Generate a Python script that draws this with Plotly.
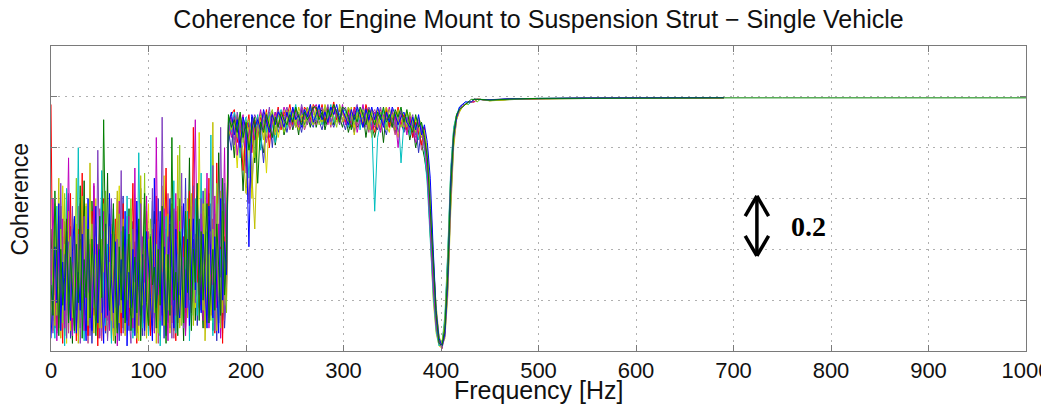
import plotly.graph_objects as go

# ---------------- data ----------------
TITLE = "Coherence for Engine Mount to Suspension Strut \u2212 Single Vehicle"
X_TITLE = "Frequency [Hz]"
Y_TITLE = "Coherence"
X_TICKS = [0, 100, 200, 300, 400, 500, 600, 700, 800, 900, 1000]
Y_TICKS = [0, 0.2, 0.4, 0.6, 0.8, 1.0, 1.2]

# frequency grids [Hz]
FREQ_LOW = list(range(0, 181, 2))        # 0..180 Hz
FREQ_MID = list(range(182, 441, 3))      # 182..440 Hz
FREQ_TAIL = [450, 470, 500, 550, 600, 650, 690]
FREQ_EXTRA = [750, 800, 850, 900, 950, 1000]

# coherence values in percent
low_a = [97, 12, 35, 8, 44, 20, 3, 51, 27, 15, 62, 9, 30, 4, 48, 22, 70, 11, 38, 6,
         25, 55, 14, 33, 2, 46, 19, 60, 8, 29, 41, 5, 23, 52, 13, 36, 7, 58, 21, 44,
         10, 32, 66, 17, 3, 49, 26, 12, 40, 55, 18, 6, 37, 24, 61, 9, 43, 15, 30, 72,
         20, 47, 11, 34, 4, 57, 28, 16, 45, 8, 39, 63, 22, 88, 31, 27, 45, 18, 50, 9,
         36, 68, 14, 52, 7, 74, 25, 41, 3, 58, 20]
low_b = [40, 18, 5, 57, 26, 11, 39, 2, 64, 15, 33, 48, 7, 21, 80, 13, 29, 4, 45, 19,
         9, 36, 52, 14, 27, 6, 71, 23, 10, 42, 30, 3, 56, 17, 38, 12, 47, 25, 8, 61,
         20, 43, 5, 34, 15, 78, 28, 9, 50, 22, 6, 37, 59, 13, 26, 44, 2, 31, 18, 53,
         11, 40, 24, 67, 7, 35, 19, 48, 14, 29, 55, 4, 38, 21, 60, 14, 33, 70, 26, 12,
         47, 19, 85, 6, 31, 58, 11, 40, 24, 66, 35]
low_c = [22, 47, 10, 31, 68, 5, 27, 42, 14, 55, 8, 35, 19, 50, 3, 29, 61, 16, 40, 12,
         74, 24, 7, 45, 18, 33, 9, 58, 26, 15, 49, 20, 4, 37, 63, 11, 28, 52, 6, 34,
         17, 56, 25, 8, 41, 14, 69, 30, 21, 5, 44, 27, 12, 50, 3, 36, 22, 65, 10, 31,
         54, 7, 26, 42, 16, 77, 9, 33, 20, 46, 13, 38, 62, 10, 27, 48, 19, 35, 58, 4,
         29, 53, 16, 90, 22, 8, 44, 63, 15, 37, 48]
low_d = [15, 60, 28, 4, 39, 17, 52, 9, 33, 76, 21, 6, 45, 26, 12, 58, 31, 8, 49, 23,
         36, 11, 66, 19, 42, 5, 30, 55, 13, 27, 8, 46, 21, 35, 2, 59, 16, 40, 29, 12,
         53, 24, 9, 72, 18, 37, 6, 45, 27, 61, 13, 32, 48, 7, 84, 22, 39, 14, 56, 25,
         4, 43, 18, 30, 62, 11, 51, 24, 37, 6, 27, 49, 15, 58, 91, 40, 22, 54, 12, 33,
         70, 9, 42, 26, 61, 17, 50, 5, 36, 80, 25]
low_e = [30, 7, 49, 21, 13, 66, 24, 38, 5, 43, 18, 57, 10, 34, 46, 3, 27, 53, 16, 39,
         6, 28, 41, 12, 79, 25, 15, 47, 33, 4, 22, 60, 9, 31, 44, 18, 71, 7, 37, 26,
         14, 3, 48, 20, 35, 10, 58, 23, 6, 42, 29, 16, 64, 8, 27, 51, 12, 92, 34, 19,
         45, 25, 5, 56, 14, 38, 22, 70, 9, 32, 17, 41, 28, 65, 19, 44, 25, 60, 38, 21,
         14, 46, 30, 73, 8, 55, 19, 88, 32, 12, 42]
low_f = [9, 34, 56, 14, 25, 48, 11, 62, 20, 37, 45, 13, 26, 68, 8, 40, 19, 32, 57, 10,
         28, 50, 17, 38, 22, 9, 44, 31, 63, 18, 35, 12, 47, 6, 26, 54, 15, 33, 48, 20,
         39, 60, 13, 27, 5, 46, 35, 18, 70, 11, 24, 52, 36, 15, 42, 7, 30, 49, 21, 38,
         16, 33, 58, 12, 44, 27, 81, 10, 25, 52, 36, 20, 47, 14, 35, 57, 29, 42, 16, 64,
         25, 38, 12, 48, 27, 66, 21, 9, 55, 30, 15]
low_g = [5, 27, 41, 19, 58, 8, 35, 16, 47, 24, 12, 39, 53, 7, 31, 16, 46, 23, 4, 60,
         19, 8, 34, 57, 11, 40, 26, 3, 50, 14, 62, 28, 15, 43, 9, 24, 36, 13, 55, 2,
         31, 17, 40, 6, 59, 25, 14, 38, 8, 47, 35, 21, 4, 68, 17, 29, 55, 10, 41, 6,
         27, 60, 36, 9, 48, 20, 13, 39, 58, 17, 44, 10, 30, 52, 24, 61, 37, 15, 46, 28,
         9, 57, 34, 13, 45, 28, 7, 60, 20, 43, 30]
low_h = [26, 14, 63, 33, 6, 40, 18, 29, 52, 11, 37, 24, 8, 42, 19, 65, 5, 36, 21, 48,
         13, 44, 29, 6, 35, 53, 21, 91, 39, 27, 16, 34, 58, 24, 7, 41, 20, 49, 11, 30,
         46, 8, 23, 37, 15, 52, 4, 29, 62, 19, 10, 45, 26, 33, 9, 40, 18, 57, 24, 3,
         38, 14, 84, 20, 31, 6, 47, 35, 11, 55, 23, 52, 8, 40, 27, 66, 12, 47, 20, 36,
         58, 11, 27, 40, 16, 50, 33, 14, 68, 22, 39]
low_i = [48, 21, 9, 36, 15, 57, 30, 6, 41, 19, 27, 3, 52, 34, 11, 44, 24, 67, 8, 31,
         17, 59, 38, 22, 5, 47, 13, 35, 28, 70, 10, 40, 26, 3, 51, 18, 33, 9, 45, 23,
         56, 14, 30, 43, 7, 25, 64, 11, 36, 19, 41, 8, 27, 55, 15, 33, 6, 48, 20, 37,
         12, 50, 29, 8, 42, 17, 60, 26, 4, 39, 30, 76, 18, 44, 12, 36, 52, 23, 9, 41,
         19, 62, 34, 8, 49, 21, 78, 38, 12, 27, 44]
low_j = [18, 44, 26, 7, 53, 32, 12, 40, 23, 62, 5, 29, 47, 16, 35, 9, 55, 27, 14, 43,
         31, 3, 24, 49, 15, 38, 63, 20, 7, 36, 54, 13, 29, 46, 21, 4, 39, 61, 17, 28,
         8, 35, 51, 22, 40, 14, 30, 6, 57, 33, 21, 46, 10, 38, 25, 60, 16, 34, 5, 48,
         33, 9, 41, 24, 55, 31, 14, 44, 26, 68, 15, 34, 57, 26, 46, 10, 30, 16, 63, 24,
         40, 13, 58, 25, 36, 4, 47, 29, 54, 9, 26]
low_k = [33, 8, 58, 24, 40, 12, 65, 28, 3, 46, 23, 54, 15, 37, 6, 26, 42, 10, 58, 29,
         44, 16, 31, 60, 9, 22, 37, 48, 19, 5, 27, 50, 8, 19, 38, 65, 11, 24, 35, 47,
         24, 48, 16, 60, 29, 4, 43, 22, 13, 35, 58, 9, 22, 43, 31, 14, 47, 26, 69, 12,
         25, 37, 15, 49, 8, 23, 36, 55, 17, 43, 60, 27, 41, 34, 17, 23, 86, 31, 28, 53,
         33, 24, 47, 11, 37, 62, 14, 51, 26, 18, 52]
low_l = [12, 39, 22, 50, 9, 31, 45, 18, 59, 7, 49, 16, 38, 24, 57, 11, 33, 45, 26, 3,
         42, 20, 65, 30, 13, 56, 4, 25, 44, 12, 36, 19, 43, 28, 60, 31, 6, 42, 18, 53,
         27, 41, 7, 32, 48, 19, 55, 35, 24, 9, 47, 28, 39, 18, 52, 3, 36, 21, 46, 29,
         62, 20, 33, 5, 38, 47, 10, 57, 31, 15, 48, 22, 36, 19, 45, 31, 17, 39, 55, 28,
         11, 44, 23, 35, 54, 28, 40, 19, 7, 45, 31]

mid_a = [88, 93, 95, 82, 90, 71, 86, 93, 78, 91, 84, 92, 88, 95, 80, 93, 90, 96, 87, 94,
         92, 97, 89, 95, 93, 90, 96, 94, 91, 97, 95, 92, 97, 90, 96, 93, 98, 91, 95, 94,
         90, 95, 88, 96, 92, 94, 89, 97, 93, 91, 86, 93, 95, 90, 96, 88, 94, 91, 96, 89,
         93, 87, 92, 84, 90, 86, 81, 88, 72, 55, 30, 12, 4, 1, 8, 28, 62, 84, 92, 95,
         96, 97, 98, 98, 98, 99, 99]
mid_b = [91, 86, 94, 89, 76, 88, 92, 68, 90, 84, 93, 79, 91, 86, 94, 89, 82, 92, 95, 90,
         88, 94, 91, 97, 89, 93, 95, 90, 96, 92, 91, 96, 89, 94, 92, 97, 90, 95, 93, 96,
         94, 88, 93, 90, 95, 87, 96, 91, 94, 89, 55, 84, 90, 95, 88, 93, 90, 89, 94, 74,
         90, 93, 85, 91, 88, 83, 90, 79, 65, 42, 22, 8, 2, 3, 14, 40, 72, 88, 93, 96,
         97, 98, 97, 98, 99, 98, 99]
mid_c = [84, 90, 87, 93, 85, 79, 62, 88, 70, 48, 86, 91, 83, 94, 88, 92, 85, 90, 93, 88,
         95, 90, 93, 88, 96, 92, 94, 89, 97, 93, 92, 95, 90, 97, 93, 89, 95, 92, 96, 90,
         93, 90, 96, 85, 92, 95, 90, 94, 88, 95, 90, 95, 88, 92, 96, 90, 93, 87, 95, 91,
         88, 94, 90, 86, 92, 89, 84, 87, 78, 60, 35, 18, 6, 2, 5, 22, 55, 80, 91, 94,
         96, 97, 98, 98, 99, 99, 99]
mid_d = [90, 84, 92, 77, 88, 93, 80, 86, 91, 83, 89, 95, 87, 92, 84, 90, 94, 88, 91, 96,
         93, 89, 95, 92, 88, 96, 91, 94, 90, 95, 97, 93, 91, 95, 89, 94, 96, 92, 90, 97,
         89, 94, 91, 95, 86, 92, 97, 90, 93, 87, 94, 90, 86, 93, 91, 96, 89, 92, 80, 93,
         91, 85, 93, 88, 82, 90, 87, 83, 70, 48, 26, 10, 3, 2, 10, 34, 66, 86, 92, 95,
         96, 97, 98, 98, 98, 99, 99]
mid_e = [86, 92, 81, 94, 87, 90, 84, 58, 89, 93, 90, 85, 93, 89, 96, 84, 91, 95, 88, 92,
         96, 91, 88, 94, 90, 97, 92, 89, 95, 91, 90, 94, 96, 92, 97, 90, 93, 95, 89, 94,
         96, 91, 89, 94, 97, 90, 92, 88, 96, 93, 88, 92, 96, 89, 93, 91, 95, 88, 90, 95,
         89, 92, 87, 93, 85, 91, 88, 80, 75, 50, 28, 11, 4, 1, 6, 25, 60, 83, 92, 95,
         97, 97, 98, 98, 99, 99, 99]
mid_f = [92, 87, 90, 84, 93, 82, 89, 91, 85, 76, 88, 93, 90, 84, 92, 95, 87, 93, 90, 86,
         91, 95, 93, 89, 94, 91, 88, 96, 93, 89, 94, 89, 93, 96, 91, 95, 92, 88, 97, 93,
         91, 96, 92, 89, 94, 91, 95, 93, 87, 94, 93, 89, 94, 91, 87, 95, 92, 94, 91, 88,
         92, 88, 94, 90, 86, 92, 89, 85, 80, 62, 38, 15, 5, 3, 12, 36, 70, 86, 93, 95,
         96, 97, 98, 98, 99, 98, 99]
mid_g = [89, 94, 85, 91, 80, 92, 87, 41, 93, 88, 91, 87, 95, 90, 86, 93, 89, 94, 92, 88,
         94, 90, 96, 91, 93, 88, 95, 92, 97, 90, 93, 97, 91, 94, 90, 96, 93, 97, 91, 95,
         92, 89, 95, 91, 96, 93, 88, 95, 91, 96, 91, 96, 92, 88, 94, 90, 96, 93, 89, 92,
         94, 90, 88, 92, 87, 93, 85, 89, 82, 68, 40, 16, 5, 2, 7, 30, 68, 85, 92, 96,
         97, 98, 98, 98, 99, 99, 99]
mid_h = [93, 88, 91, 86, 94, 84, 90, 79, 87, 92, 66, 90, 86, 93, 89, 84, 92, 88, 94, 91,
         89, 93, 90, 96, 92, 89, 94, 91, 93, 96, 96, 91, 94, 89, 95, 92, 97, 94, 90, 96,
         95, 92, 87, 93, 90, 96, 93, 89, 95, 92, 89, 94, 91, 96, 90, 93, 88, 95, 92, 96,
         90, 95, 89, 86, 93, 88, 90, 84, 76, 56, 32, 14, 3, 2, 9, 31, 64, 85, 93, 95,
         96, 97, 98, 99, 99, 99, 99]
mid_i = [82, 90, 76, 92, 86, 63, 88, 80, 92, 74, 90, 83, 78, 91, 87, 94, 81, 89, 93, 85,
         90, 94, 87, 92, 85, 95, 89, 93, 88, 96, 88, 93, 95, 87, 92, 96, 89, 94, 92, 88,
         93, 86, 91, 95, 88, 90, 94, 84, 92, 89, 84, 90, 93, 82, 95, 89, 92, 86, 91, 94,
         87, 91, 83, 89, 80, 86, 82, 76, 68, 45, 24, 9, 3, 2, 11, 38, 70, 87, 93, 95,
         96, 97, 98, 98, 99, 99, 99]
mid_j = [87, 79, 93, 84, 91, 86, 73, 90, 64, 88, 92, 86, 74, 89, 93, 80, 94, 86, 90, 92,
         86, 92, 95, 88, 91, 86, 93, 96, 90, 88, 94, 90, 87, 93, 96, 91, 88, 92, 95, 91,
         87, 93, 90, 86, 94, 91, 88, 96, 90, 85, 92, 87, 94, 90, 85, 92, 88, 94, 86, 90,
         86, 89, 92, 84, 90, 78, 88, 82, 74, 52, 34, 13, 4, 2, 6, 26, 58, 82, 91, 95,
         96, 97, 98, 98, 99, 99, 99]
mid_k = [90, 85, 88, 72, 93, 87, 91, 85, 60, 90, 83, 94, 89, 70, 92, 88, 93, 84, 89, 95,
         91, 88, 94, 90, 87, 93, 90, 95, 92, 89, 96, 92, 89, 95, 90, 93, 97, 90, 93, 92,
         90, 96, 93, 88, 95, 89, 93, 91, 95, 84, 91, 88, 92, 94, 89, 86, 95, 90, 84, 92,
         93, 86, 90, 87, 91, 84, 86, 80, 71, 46, 20, 7, 2, 1, 9, 33, 65, 84, 92, 95,
         96, 97, 97, 98, 98, 99, 99]
mid_l = [85, 91, 83, 88, 78, 90, 70, 87, 82, 90, 87, 90, 94, 82, 88, 91, 86, 95, 88, 91,
         94, 87, 91, 95, 89, 92, 87, 91, 94, 90, 89, 95, 92, 90, 94, 88, 95, 93, 89, 95,
         92, 88, 94, 92, 89, 93, 90, 92, 86, 93, 95, 91, 87, 92, 93, 88, 90, 85, 93, 89,
         88, 92, 86, 90, 84, 88, 79, 85, 77, 58, 36, 16, 5, 3, 8, 29, 63, 84, 92, 95,
         97, 97, 98, 98, 99, 99, 99]

tail_a = [98.6, 99.0, 99.3, 99.4, 99.5, 99.6, 99.6]
tail_b = [98.9, 99.2, 99.4, 99.5, 99.6, 99.6, 99.7]
tail_c = [98.4, 98.9, 99.2, 99.4, 99.5, 99.5, 99.6]
tail_d = [98.7, 99.1, 99.3, 99.5, 99.5, 99.6, 99.6]
tail_e = [98.8, 99.1, 99.4, 99.5, 99.6, 99.6, 99.7]
tail_f = [98.5, 99.0, 99.3, 99.4, 99.5, 99.6, 99.6]
tail_g = [98.8, 99.2, 99.4, 99.5, 99.6, 99.6, 99.7]
tail_h = [98.7, 99.1, 99.4, 99.5, 99.6, 99.6, 99.6]
tail_i = [98.5, 98.9, 99.2, 99.4, 99.5, 99.6, 99.6]
tail_j = [98.8, 99.1, 99.3, 99.5, 99.5, 99.6, 99.7]
tail_k = [98.6, 99.0, 99.3, 99.4, 99.6, 99.6, 99.6]
tail_l = [98.9, 99.2, 99.4, 99.5, 99.6, 99.6, 99.7]
extra_h = [99.6, 99.6, 99.6, 99.6, 99.6, 99.6]

# drawing order: first listed is drawn first (underneath)
SERIES_NAMES = ["i", "j", "k", "l", "a", "b", "c", "d", "e", "f", "g", "h"]
SERIES_COLORS = ["#006400", "#3030c0", "#d8d800", "#c04080",
                 "#ff0000", "#00bfbf", "#bfbf00", "#bf00bf", "#7f3fbf", "#8ccc1a", "#0000ff", "#008000"]
LOW = [low_i, low_j, low_k, low_l, low_a, low_b, low_c, low_d, low_e, low_f, low_g, low_h]
MID = [mid_i, mid_j, mid_k, mid_l, mid_a, mid_b, mid_c, mid_d, mid_e, mid_f, mid_g, mid_h]
TAIL = [tail_i, tail_j, tail_k, tail_l, tail_a, tail_b, tail_c, tail_d, tail_e, tail_f, tail_g, tail_h]

# annotation (scale marker)
ARROW_X = 724
ARROW_TOP = 0.610
ARROW_BOTTOM = 0.374
ARROW_HEAD_DX = 12
ARROW_HEAD_DY = 0.079
LABEL_TEXT = "0.2"
LABEL_X = 777
LABEL_Y = 0.49

# ---------------- figure ----------------
fig = go.Figure()
for i, name in enumerate(SERIES_NAMES):
    xs = FREQ_LOW + FREQ_MID + FREQ_TAIL
    ys = [v / 100 for v in LOW[i] + MID[i] + TAIL[i]]
    if name == "h":
        xs = xs + FREQ_EXTRA
        ys = ys + [v / 100 for v in extra_h]
    fig.add_trace(go.Scatter(x=xs, y=ys, mode="lines", name=name,
                             line=dict(color=SERIES_COLORS[i], width=1),
                             showlegend=False, hoverinfo="skip"))

FONT = "Liberation Sans, Arial, Helvetica, sans-serif"
axis_common = dict(
    showgrid=True, gridcolor="#b0b0b0", griddash="2px,5px", gridwidth=1,
    zeroline=False, showline=True, linecolor="#7a7a7a", linewidth=1,
    mirror="ticks", ticks="inside", ticklen=6, tickcolor="#7a7a7a",
    automargin=False,
)
fig.update_xaxes(range=[0, 1000], tickvals=X_TICKS, ticklabeloverflow="allow",
                 tickfont=dict(family=FONT, size=22, color="#111111"), **axis_common)
fig.update_yaxes(range=[0, 1.2], tickvals=Y_TICKS, showticklabels=False, **axis_common)

black = dict(color="black", width=3.5)
shapes = [
    dict(type="line", xref="x", yref="y", x0=ARROW_X, x1=ARROW_X, y0=ARROW_BOTTOM + 0.004, y1=ARROW_TOP - 0.004, line=black),
    dict(type="line", xref="x", yref="y", x0=ARROW_X, x1=ARROW_X - ARROW_HEAD_DX, y0=ARROW_TOP, y1=ARROW_TOP - ARROW_HEAD_DY, line=black),
    dict(type="line", xref="x", yref="y", x0=ARROW_X, x1=ARROW_X + ARROW_HEAD_DX, y0=ARROW_TOP, y1=ARROW_TOP - ARROW_HEAD_DY, line=black),
    dict(type="line", xref="x", yref="y", x0=ARROW_X, x1=ARROW_X - ARROW_HEAD_DX, y0=ARROW_BOTTOM, y1=ARROW_BOTTOM + ARROW_HEAD_DY, line=black),
    dict(type="line", xref="x", yref="y", x0=ARROW_X, x1=ARROW_X + ARROW_HEAD_DX, y0=ARROW_BOTTOM, y1=ARROW_BOTTOM + ARROW_HEAD_DY, line=black),
]

annotations = [
    dict(text="<b>" + LABEL_TEXT + "</b>", x=LABEL_X, y=LABEL_Y, xref="x", yref="y", showarrow=False,
         font=dict(family="Liberation Serif, Times New Roman, serif", size=28, color="black"),
         xanchor="center", yanchor="middle"),
    dict(text=X_TITLE, x=0.5, y=-0.127, xref="paper", yref="paper", showarrow=False,
         font=dict(family=FONT, size=25, color="#111111"), xanchor="center", yanchor="middle"),
    dict(text=Y_TITLE, x=-0.0318, y=0.5, xref="paper", yref="paper", showarrow=False,
         textangle=-90, font=dict(family=FONT, size=23, color="#111111"),
         xanchor="center", yanchor="middle"),
]

# The page body has an 8px default margin: the figure is sized/offset to compensate
fig.update_layout(
    width=1041, height=406,
    margin=dict(l=43, r=23, t=38, b=63),
    paper_bgcolor="white", plot_bgcolor="white",
    title=dict(text=TITLE, x=0.5, xref="paper", y=1 - 11.5 / 406, yref="container",
               xanchor="center", yanchor="middle",
               font=dict(family=FONT, size=25, color="#111111")),
    shapes=shapes, annotations=annotations,
)

fig.write_html("out.html", config={"displayModeBar": False})
